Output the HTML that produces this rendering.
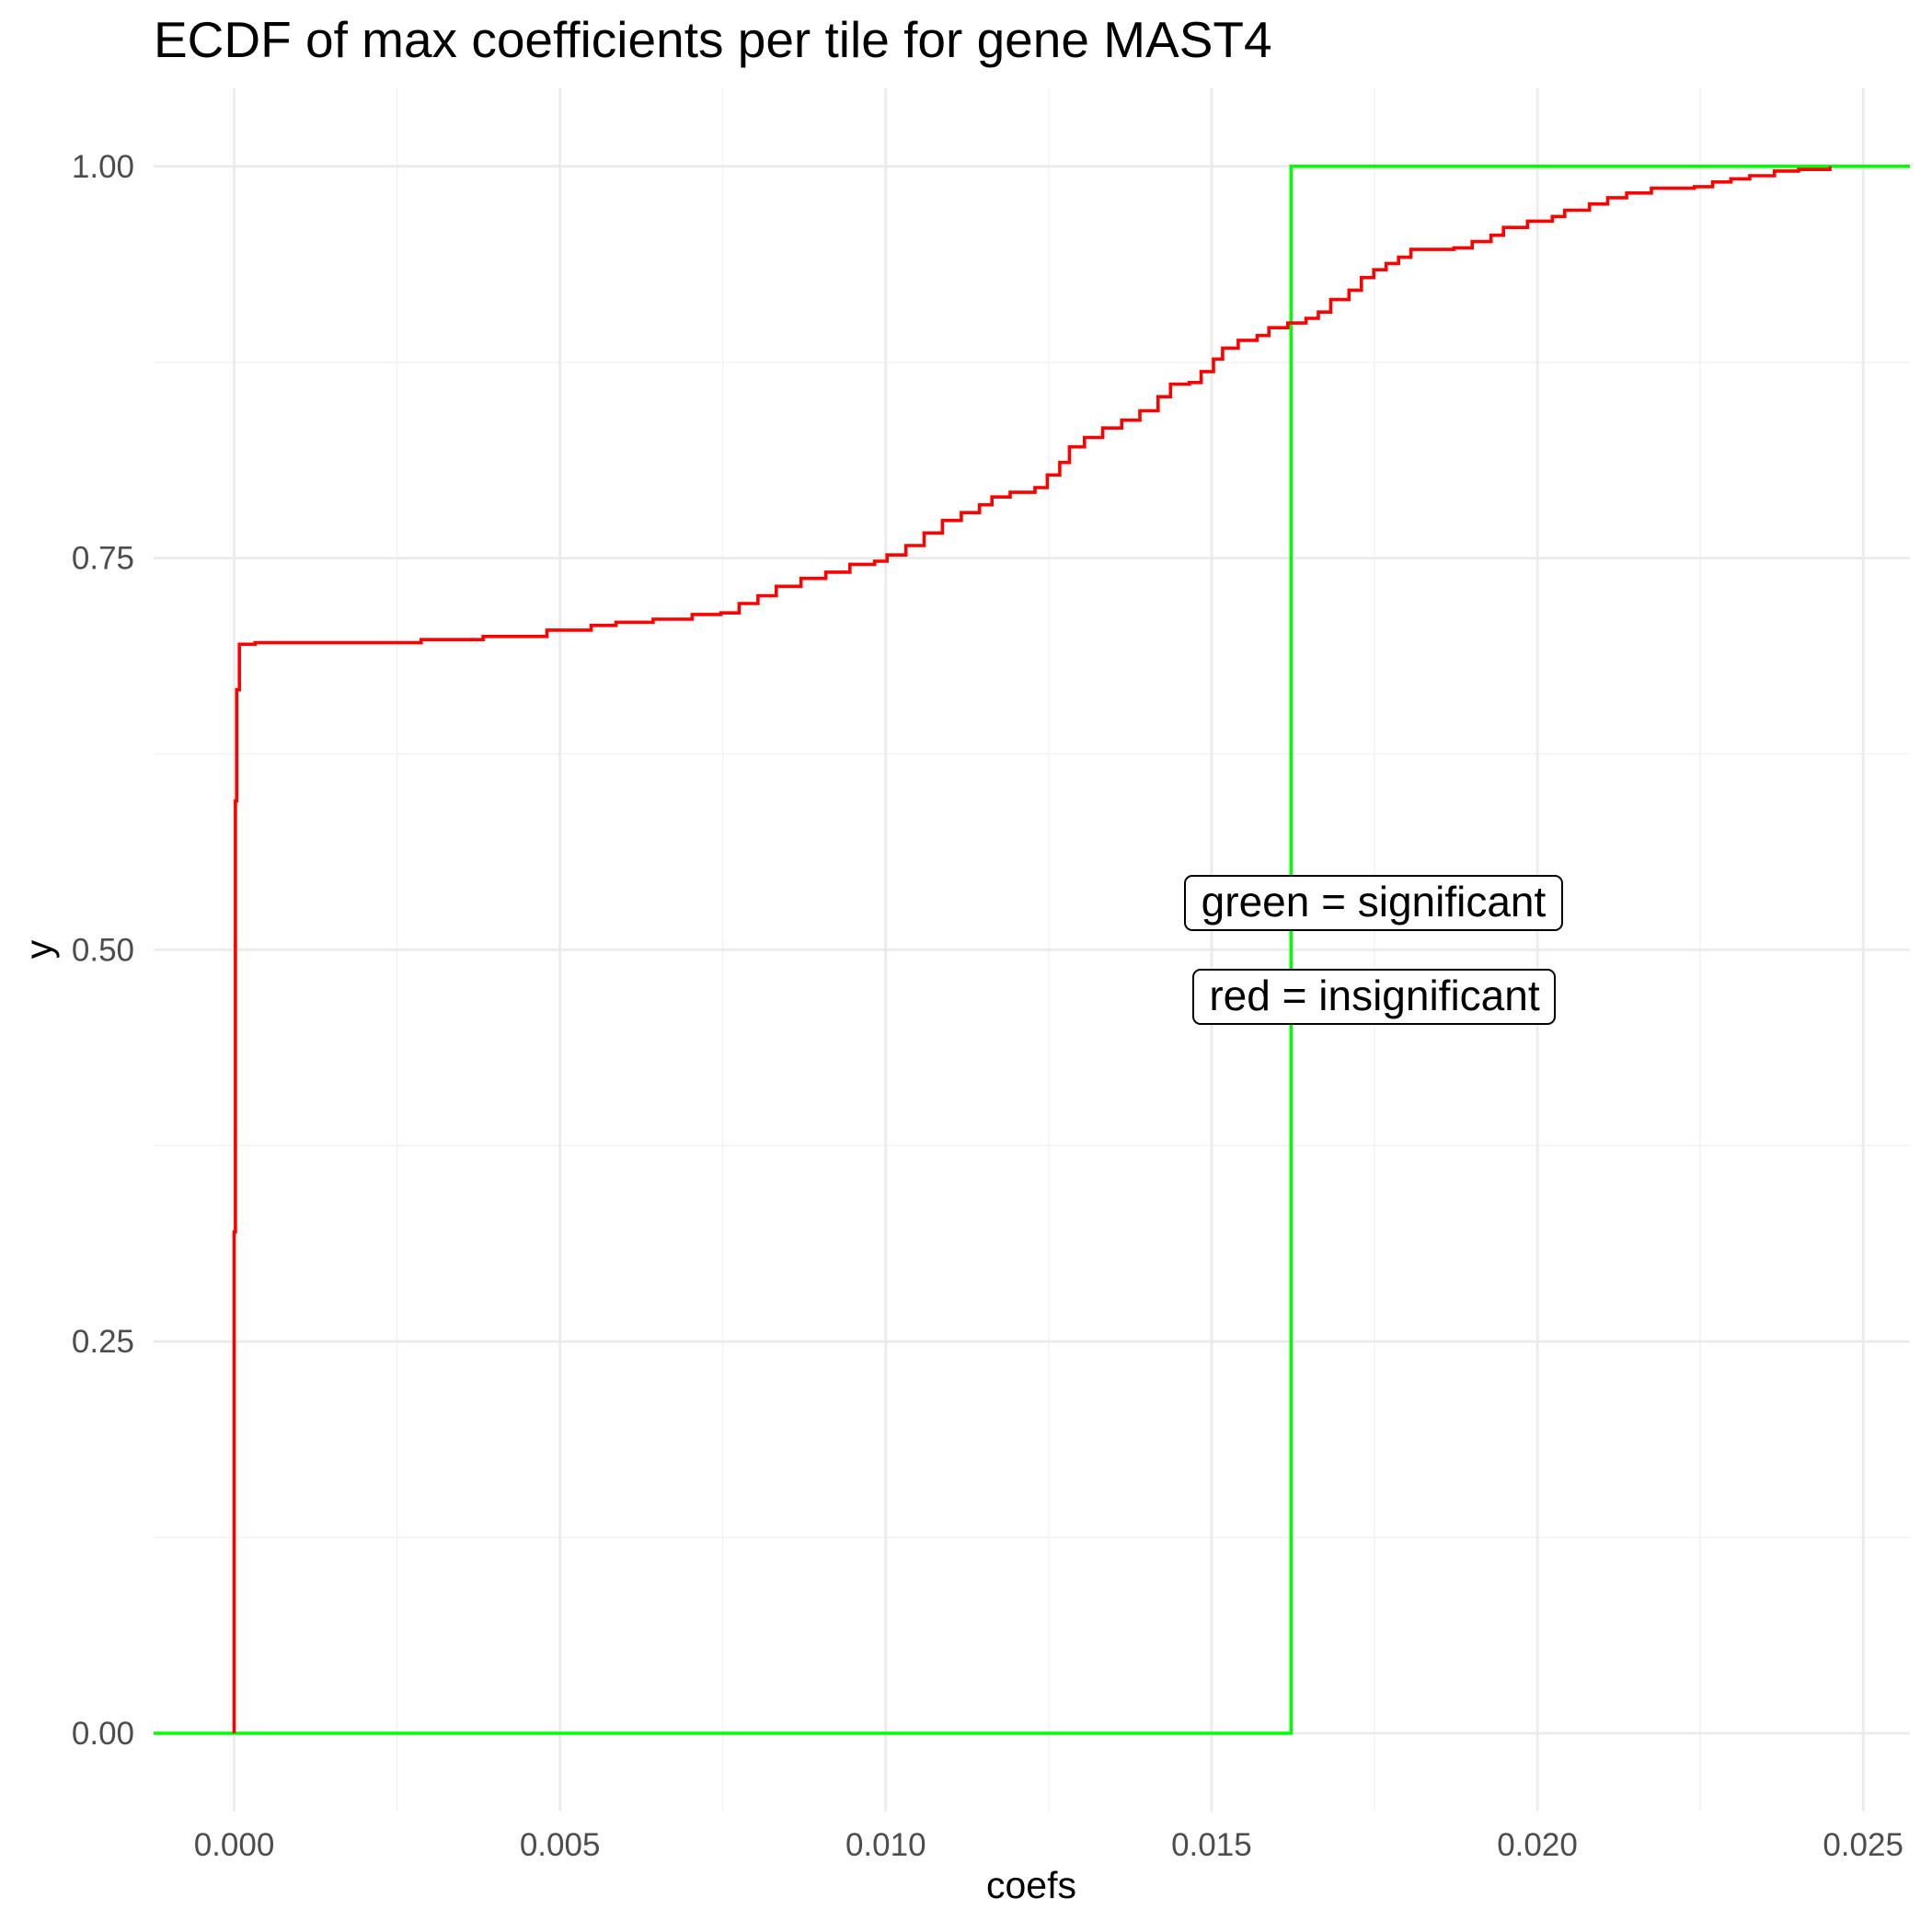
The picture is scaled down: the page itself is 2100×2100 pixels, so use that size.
<!DOCTYPE html>
<html><head><meta charset="utf-8"><style>
body{margin:0;background:#fff}
svg{display:block}
text{font-family:"Liberation Sans",sans-serif}
</style></head><body>
<svg id="chart" width="2100" height="2100" viewBox="0 0 2100 2100" xmlns="http://www.w3.org/2000/svg">
<text x="167" y="62" font-size="55" fill="#000">ECDF of max coefficients per tile for gene MAST4</text>
<g id="grid"></g>
<g id="series"></g>
<g id="axes"></g>
<text x="1121" y="2063" font-size="41" text-anchor="middle" fill="#000">coefs</text>
<text transform="translate(56,1032) rotate(-90)" font-size="41" text-anchor="middle" fill="#000">y</text>
<g>
<rect x="1288" y="952" width="410" height="59" rx="8" fill="#fff" stroke="#000" stroke-width="2"/>
<text x="1493" y="996" font-size="46" text-anchor="middle" fill="#000">green = significant</text>
</g>
<g>
<rect x="1297" y="1054" width="393" height="59" rx="8" fill="#fff" stroke="#000" stroke-width="2"/>
<text x="1494" y="1098" font-size="46" text-anchor="middle" fill="#000">red = insignificant</text>
</g>
</svg>
<script>
const xTicks=[0,0.005,0.01,0.015,0.02,0.025];
const xTickLabels=["0.000","0.005","0.010","0.015","0.020","0.025"];
const yTicks=[0,0.25,0.5,0.75,1];
const yTickLabels=["0.00","0.25","0.50","0.75","1.00"];
const redX=[0,0.00002,0.00004,0.00008,0.00032,0.00287,0.00382,0.0048,0.00548,0.00586,0.00643,0.00703,0.00747,0.00775,0.00804,0.00832,0.0087,0.00908,0.00945,0.00983,0.01002,0.01031,0.01059,0.01087,0.01116,0.01144,0.01163,0.01191,0.01229,0.01248,0.01267,0.01282,0.01305,0.01333,0.01362,0.0139,0.01418,0.01437,0.01466,0.01484,0.01503,0.01517,0.01541,0.0157,0.01588,0.01617,0.01645,0.01664,0.01683,0.01711,0.0173,0.01749,0.01768,0.01787,0.01806,0.01872,0.019,0.01929,0.01948,0.01985,0.02023,0.02042,0.0208,0.02108,0.02137,0.02175,0.02241,0.02269,0.02297,0.02326,0.02364,0.02401,0.02449];
const redY=[0.32,0.595,0.666,0.695,0.696,0.698,0.700,0.704,0.707,0.709,0.711,0.714,0.715,0.721,0.726,0.732,0.737,0.741,0.746,0.748,0.752,0.758,0.766,0.774,0.779,0.784,0.789,0.792,0.795,0.803,0.811,0.821,0.827,0.833,0.838,0.844,0.853,0.861,0.862,0.869,0.877,0.884,0.889,0.892,0.897,0.9,0.903,0.907,0.915,0.921,0.929,0.934,0.938,0.942,0.947,0.948,0.952,0.956,0.961,0.965,0.968,0.972,0.976,0.98,0.983,0.986,0.987,0.99,0.992,0.994,0.997,0.998,1.0];
const greenStep=[0.01622];
const greenLevels=[0,1];

const NS="http://www.w3.org/2000/svg";
const L=167,R=2076,T=96,B=1969;
const xs=v=>254.5+v*70826;
const ys=v=>1884-v*1703.2;
function mk(tag,attrs,parent){const e=document.createElementNS(NS,tag);for(const k in attrs)e.setAttribute(k,attrs[k]);parent.appendChild(e);return e;}
const grid=document.getElementById('grid'),series=document.getElementById('series'),axes=document.getElementById('axes');
for(let i=0;i<xTicks.length;i++){
 const m=xTicks[i]+0.0025;
 if(xs(m)<R){const g=mk('line',{x1:xs(m),x2:xs(m),y1:T,y2:B,stroke:'#f2f2f2','stroke-width':1.5},grid);
 
 }
}
for(let i=0;i<yTicks.length-1;i++){
 const m=yTicks[i]+0.125;
 const g=mk('line',{x1:L,x2:R,y1:ys(m),y2:ys(m),stroke:'#f2f2f2','stroke-width':1.5},grid);
 
 
}
xTicks.forEach((v,i)=>{
 const g=mk('line',{x1:xs(v),x2:xs(v),y1:T,y2:B,stroke:'#ebebeb','stroke-width':2.8},grid);
 
 
 const t=mk('text',{x:xs(v),y:2017,'font-size':35,'text-anchor':'middle',fill:'#4d4d4d'},axes);
 t.textContent=xTickLabels[i];
 
 
});
yTicks.forEach((v,i)=>{
 const g=mk('line',{x1:L,x2:R,y1:ys(v),y2:ys(v),stroke:'#ebebeb','stroke-width':2.8},grid);
 
 
 const t=mk('text',{x:146,y:ys(v)+12,'font-size':35,'text-anchor':'end',fill:'#4d4d4d'},axes);
 t.textContent=yTickLabels[i];
 
 
});
let gd=`M${L},${ys(greenLevels[0])} H${xs(greenStep[0])} V${ys(greenLevels[1])} H${R}`;
const gp=mk('path',{d:gd,fill:'none',stroke:'#00ff00','stroke-width':3.6},series);


let rd=`M${xs(0)},${ys(0)}`;
for(let i=0;i<redX.length;i++){rd+=` H${xs(redX[i]).toFixed(1)} V${ys(redY[i]).toFixed(1)}`;}
const rp=mk('path',{d:rd,fill:'none',stroke:'#ff0000','stroke-width':3.6},series);


</script>
</body></html>
